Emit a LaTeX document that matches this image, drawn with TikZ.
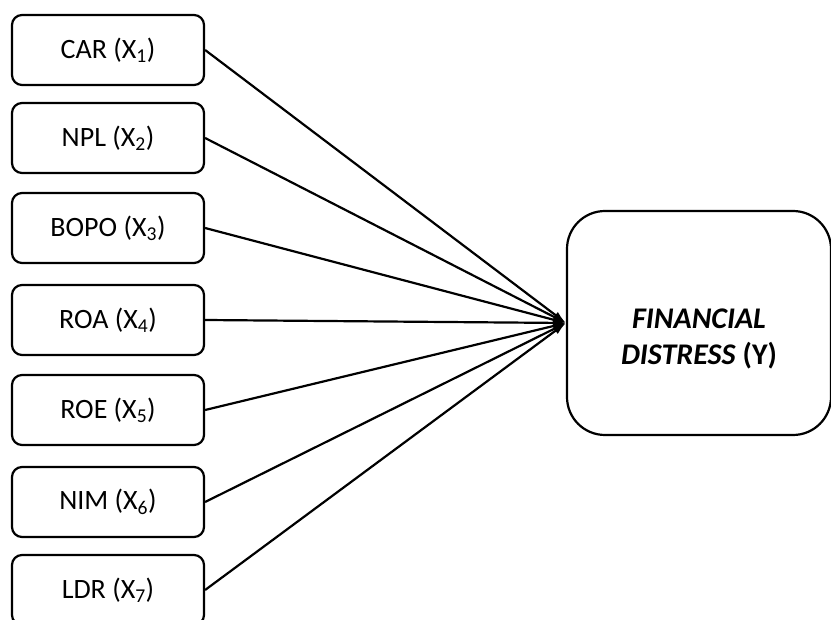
\documentclass[tikz,border=0pt]{standalone}
\usepackage{fontspec}
\setmainfont{Carlito}
\usetikzlibrary{arrows.meta}
\begin{document}
\begin{tikzpicture}[x=1pt,y=-1pt,
    var/.style={draw,line width=2.2pt,rounded corners=10pt,minimum width=192pt,minimum height=70pt,font=\fontsize{28}{32}\selectfont},
    dep/.style={draw,line width=2.2pt,rounded corners=38pt,minimum width=264pt,minimum height=224pt},
    deptext/.style={align=center,yshift=-16pt,font=\fontsize{30}{36}\selectfont}]
    \useasboundingbox (0,0) rectangle (831,620);
    \node[dep,label={[deptext]center:{\textbf{\textit{FINANCIAL}}\\\textbf{\textit{DISTRESS} (Y)}}}] (fd) at (699,323) {};
    \foreach \name/\lbl/\i/\y in {car/CAR/1/50,npl/NPL/2/138,bopo/BOPO/3/228,roa/ROA/4/320,roe/ROE/5/410,nim/NIM/6/502,ldr/LDR/7/590} {
        \node[var] (\name) at (108,\y) {\lbl\ (X\textsubscript{\i})};
        \draw[-{Latex[length=13pt,width=8pt]},line width=2.2pt] (\name.east) -- (fd.west);
    }
\end{tikzpicture}
\end{document}
